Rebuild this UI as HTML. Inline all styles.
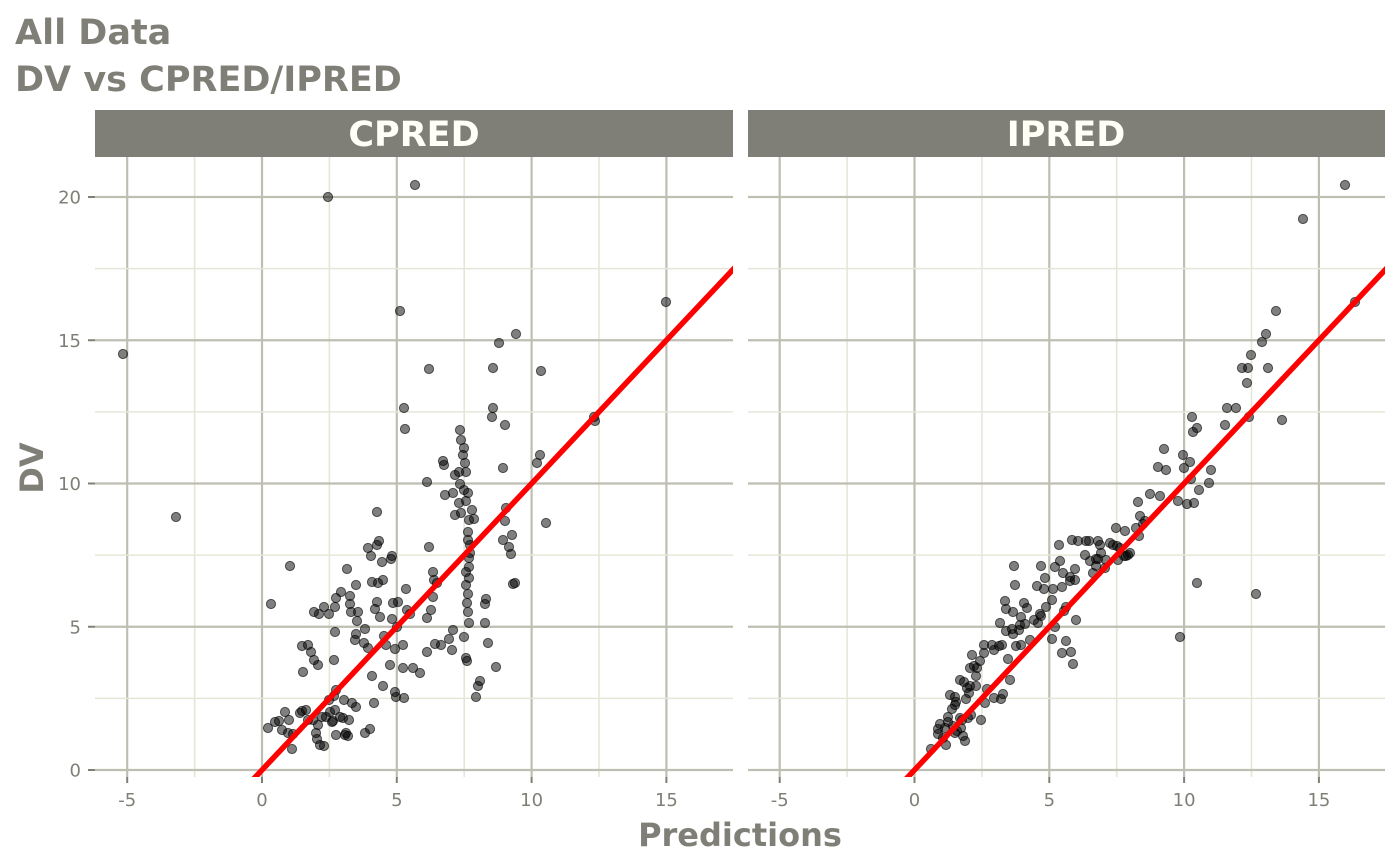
<!DOCTYPE html>
<html><head><meta charset="utf-8"><style>
html,body{margin:0;padding:0;background:#fff;}
svg{display:block;font-family:"DejaVu Sans","Liberation Sans",sans-serif;}
</style></head><body>
<svg id="s" width="1400" height="865" xmlns="http://www.w3.org/2000/svg">
<text x="15" y="44" font-size="35" font-weight="bold" fill="#807f77">All Data</text>
<text x="15" y="91" font-size="35" font-weight="bold" fill="#807f77">DV vs CPRED/IPRED</text>
<rect x="95" y="110" width="638" height="47" fill="#807f77"/>
<rect x="748" y="110" width="637" height="47" fill="#807f77"/>
<text x="414" y="146" font-size="35" font-weight="bold" fill="#fffff5" text-anchor="middle">CPRED</text>
<text x="1066" y="146" font-size="35" font-weight="bold" fill="#fffff5" text-anchor="middle">IPRED</text>
<g id="g"></g>
<text x="740" y="846" font-size="32" font-weight="bold" fill="#807f77" text-anchor="middle">Predictions</text>
<text transform="translate(43,468) rotate(-90)" font-size="32" font-weight="bold" fill="#807f77" text-anchor="middle">DV</text>
</svg>
<script>
var g=document.getElementById('g'),h='';
var L=[[123,354],[176,517],[271,604],[290,566],[292,749],[328,197],[400,311],[415,185],[429,369],[404,408],[405,429],[541,371],[540,455],[537,463],[546,523],[594,417],[595,421],[666,302],[516,334],[499,343],[493,368],[493,408],[492,417],[505,425],[503,468],[506,508],[505,521],[503,540],[512,535],[509,547],[511,554],[515,583],[513,584],[486,599],[485,604],[485,623],[488,643],[496,667],[478,686],[476,697],[480,681],[463,455],[460,430],[461,440],[464,448],[465,463],[466,472],[459,472],[464,490],[460,484],[468,493],[466,501],[459,503],[461,513],[472,510],[469,520],[468,532],[468,540],[470,545],[470,553],[469,558],[469,567],[466,572],[469,578],[466,585],[468,594],[467,603],[468,612],[469,623],[464,637],[466,658],[467,661],[455,515],[443,461],[444,465],[455,475],[453,493],[474,519],[445,495],[427,482],[433,572],[429,547],[434,580],[433,597],[427,618],[427,652],[437,583],[431,610],[453,630],[449,639],[452,650],[441,645],[435,644],[420,673],[413,668],[403,668],[406,589],[392,556],[391,559],[379,541],[377,545],[368,548],[371,556],[377,512],[383,580],[382,562],[377,602],[375,609],[368,648],[365,629],[356,585],[347,569],[351,612],[356,634],[350,604],[380,617],[393,603],[397,627],[398,602],[395,692],[396,697],[404,698],[395,649],[392,619],[403,645],[407,610],[410,614],[384,636],[386,645],[390,665],[383,686],[372,676],[364,643],[355,640],[357,621],[358,612],[336,598],[341,592],[350,596],[372,582],[378,583],[374,703],[370,729],[365,733],[356,707],[349,720],[346,733],[340,717],[334,696],[336,690],[334,660],[335,632],[335,607],[324,607],[319,614],[314,612],[329,614],[314,660],[318,665],[303,672],[311,652],[308,645],[302,646],[306,710],[318,725],[300,713],[289,720],[285,712],[279,721],[282,730],[268,728],[275,722],[288,733],[293,734],[326,717],[324,746],[320,745],[317,739],[316,733],[313,720],[322,717],[329,700],[330,712],[333,721],[344,700],[352,703],[343,718],[345,735],[348,736],[302,711],[308,720],[335,710],[332,722],[336,735]];
var R=[[1345,185],[1303,219],[1276,311],[1266,334],[1262,342],[1251,355],[1248,368],[1242,368],[1247,383],[1236,408],[1227,408],[1249,417],[1268,368],[1282,420],[1225,425],[1192,417],[1193,432],[1197,428],[1183,455],[1190,462],[1184,468],[1164,449],[1166,470],[1158,467],[1138,502],[1140,516],[1150,494],[1160,496],[1211,470],[1209,483],[1191,479],[1199,490],[1178,501],[1187,504],[1194,503],[1197,583],[1180,637],[1256,594],[1355,302],[1143,524],[1145,521],[1136,528],[1139,536],[1126,556],[1113,545],[1110,543],[1120,548],[1125,531],[1116,528],[1130,553],[1124,556],[1101,553],[1098,559],[1093,573],[1096,559],[1106,560],[1105,568],[1086,541],[1096,566],[1085,555],[1075,569],[1070,577],[1063,573],[1060,561],[1055,567],[1059,545],[1072,540],[1078,541],[1089,541],[1098,541],[1062,587],[1052,600],[1045,578],[1044,589],[1037,586],[1046,607],[1041,616],[1034,620],[1055,627],[1064,611],[1066,607],[1070,581],[1076,620],[1062,653],[1073,664],[1066,641],[1071,652],[1052,639],[1027,608],[1013,612],[1006,609],[1000,623],[1021,617],[1025,624],[1040,614],[1012,629],[1019,630],[1038,623],[1006,631],[1002,645],[992,645],[984,645],[994,650],[999,646],[1013,634],[1020,625],[1008,659],[980,661],[984,653],[974,666],[970,668],[1010,680],[994,698],[985,703],[977,668],[960,680],[964,682],[969,693],[967,688],[950,695],[952,709],[955,705],[948,717],[938,729],[938,734],[945,728],[931,749],[943,738],[960,718],[962,720],[956,702],[971,715],[966,699],[955,697],[970,686],[976,686],[963,736],[946,745],[965,741],[955,733],[940,724],[948,722],[961,728],[968,718],[953,726],[957,731],[1015,585],[1005,601],[1041,566],[1053,589],[1090,561],[1118,560],[1128,555],[1100,545],[1117,546],[1024,603],[1075,580],[1014,566],[981,720],[1001,699],[1016,646],[1021,645],[1030,640],[1003,694],[987,689],[976,676],[972,655]];
function panel(x0,x1,zx,pts,labels,cid){
 var y0=157,y1=777,uy=28.65,ux=26.96;
 h+='<clipPath id="'+cid+'"><rect x="'+x0+'" y="'+y0+'" width="'+(x1-x0)+'" height="'+(y1-y0)+'"/></clipPath>';
 for(var v=-7.5;v<=17.5;v+=2.5){var px=zx+v*ux;if(px<x0||px>x1)continue;var maj=(v%5==0);
  h+='<line x1="'+px+'" x2="'+px+'" y1="'+y0+'" y2="'+y1+'" stroke="'+(maj?'#bebeb2':'#e6e6d8')+'" stroke-width="'+(maj?2.2:1.6)+'"/>';
  if(maj){h+='<line x1="'+px+'" x2="'+px+'" y1="'+y1+'" y2="'+(y1+6)+'" stroke="#807f77" stroke-width="2"/>';
   h+='<text x="'+px+'" y="806" font-size="18" fill="#807f77" text-anchor="middle">'+v+'</text>';}}
 for(var v=0;v<=20;v+=2.5){var py=770-v*uy;var maj=(v%5==0);
  h+='<line x1="'+x0+'" x2="'+x1+'" y1="'+py+'" y2="'+py+'" stroke="'+(maj?'#bebeb2':'#e6e6d8')+'" stroke-width="'+(maj?2.2:1.6)+'"/>';
  if(maj&&labels){h+='<line x1="'+(x0-7)+'" x2="'+x0+'" y1="'+py+'" y2="'+py+'" stroke="#807f77" stroke-width="2"/>';
   h+='<text x="'+(x0-14)+'" y="'+(py+6.5)+'" font-size="18" fill="#807f77" text-anchor="end">'+v+'</text>';}}
 h+='<g clip-path="url(#'+cid+')">';
 pts.forEach(function(p){h+='<circle cx="'+p[0]+'" cy="'+p[1]+'" r="4.6" fill="rgba(0,0,0,0.5)" stroke="rgba(0,0,0,0.6)" stroke-width="1"/>';});
 var a=-1,b=19;h+='<line x1="'+(zx+a*ux)+'" y1="'+(770-a*uy)+'" x2="'+(zx+b*ux)+'" y2="'+(770-b*uy)+'" stroke="#ff0000" stroke-width="5.5"/>';
 h+='</g>';
}
panel(95,733,262,L,true,'c1');
panel(748,1385,914.5,R,false,'c2');
g.innerHTML=h;
</script>
</body></html>
